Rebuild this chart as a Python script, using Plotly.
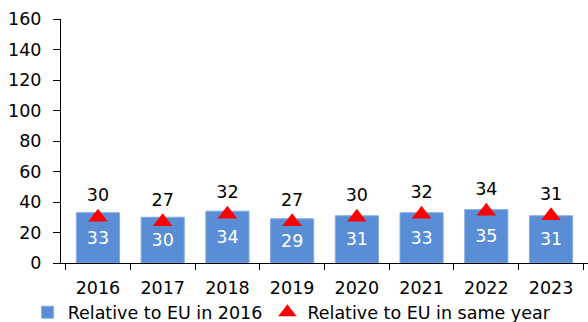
import plotly.graph_objects as go

# Index values per year
years = ["2016", "2017", "2018", "2019", "2020", "2021", "2022", "2023"]
rel_eu_2016 = [33, 30, 34, 29, 31, 33, 35, 31]
rel_eu_same_year = [30, 27, 32, 27, 30, 32, 34, 31]

y_ticks = [0, 20, 40, 60, 80, 100, 120, 140, 160]

FONT = "DejaVu Sans"
FS = 17.5
BLUE = "#598DD5"
RED = "#FF0000"

fig = go.Figure()

fig.add_trace(go.Bar(
    x=years,
    y=rel_eu_2016,
    name="Relative to EU in 2016",
    marker=dict(color=BLUE, line=dict(color="#86ABE2", width=1)),
    text=[str(v) for v in rel_eu_2016],
    textposition="inside",
    insidetextanchor="middle",
    textangle=0,
    constraintext="none",
    textfont=dict(family=FONT, size=FS, color="white"),
))

fig.add_trace(go.Scatter(
    x=years,
    y=rel_eu_same_year,
    name="Relative to EU in same year",
    mode="markers+text",
    marker=dict(symbol="triangle-up", size=17, color=RED),
    text=[str(v) for v in rel_eu_same_year],
    textposition="top center",
    textfont=dict(family=FONT, size=FS, color="#000000"),
    cliponaxis=False,
))

fig.update_layout(
    width=588,
    height=322,
    margin=dict(l=61, r=0, t=19, b=59),
    paper_bgcolor="white",
    plot_bgcolor="white",
    font=dict(family=FONT, size=FS, color="#000000"),
    bargap=0.333,
    showlegend=True,
    legend=dict(
        orientation="h",
        xref="container",
        yref="container",
        x=0.047,
        y=0.03,
        xanchor="left",
        yanchor="middle",
        font=dict(family=FONT, size=FS, color="#000000"),
        bgcolor="rgba(0,0,0,0)",
        tracegroupgap=0,
    ),
    xaxis=dict(
        type="category",
        automargin=False,
        showgrid=False,
        showline=True,
        linecolor="#000000",
        linewidth=1,
        ticks="outside",
        tickson="boundaries",
        ticklen=6,
        tickcolor="#000000",
        ticklabelstandoff=9,
        tickfont=dict(family=FONT, size=FS, color="#000000"),
    ),
    yaxis=dict(
        range=[0, 160],
        tickvals=y_ticks,
        automargin=False,
        showgrid=False,
        zeroline=False,
        showline=True,
        linecolor="#000000",
        linewidth=1,
        ticks="outside",
        ticklen=7,
        tickcolor="#000000",
        ticklabelstandoff=8,
        tickfont=dict(family=FONT, size=FS, color="#000000"),
    ),
)

fig.write_html("out.html")
